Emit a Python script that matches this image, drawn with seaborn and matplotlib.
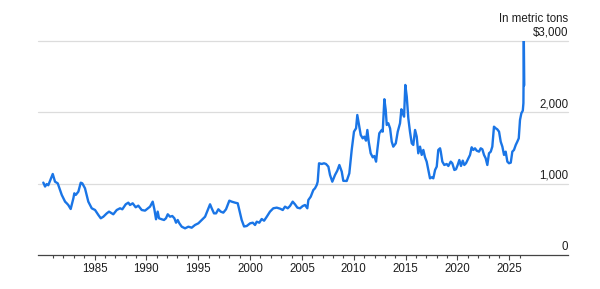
"""
Recreates the price line chart (metric tons, 1980 - 2026)
"""
import matplotlib
matplotlib.use("Agg")
import matplotlib.pyplot as plt
import pandas as pd
import seaborn as sns

# Values (decimal year, price)
years = [
    1980.06, 1980.23, 1980.39, 1980.54, 1980.97, 1981.19, 1981.45, 1981.84,
    1982.16, 1982.32, 1982.47, 1982.70, 1982.96, 1983.05, 1983.19, 1983.44,
    1983.67, 1983.82, 1984.08, 1984.40, 1984.73, 1985.05, 1985.37, 1985.60,
    1985.85, 1986.18, 1986.40, 1986.81, 1987.14, 1987.46, 1987.68, 1988.01,
    1988.26, 1988.42, 1988.68, 1988.97, 1989.22, 1989.55, 1989.87, 1990.03,
    1990.35, 1990.61, 1990.77, 1990.93, 1991.09, 1991.22, 1991.48, 1991.70,
    1991.89, 1992.06, 1992.28, 1992.50, 1992.70, 1992.86, 1993.02, 1993.18,
    1993.41, 1993.73, 1994.05, 1994.37, 1994.69, 1995.01, 1995.34, 1995.66,
    1995.92, 1996.14, 1996.30, 1996.52, 1996.72, 1996.94, 1997.17, 1997.42,
    1997.68, 1998.00, 1998.23, 1998.55, 1998.81, 1998.96, 1999.19, 1999.42,
    1999.68, 2000.00, 2000.26, 2000.48, 2000.64, 2000.89, 2001.12, 2001.35,
    2001.61, 2001.92, 2002.24, 2002.57, 2002.89, 2003.15, 2003.37, 2003.63,
    2003.85, 2004.11, 2004.33, 2004.56, 2004.82, 2005.08, 2005.30, 2005.52,
    2005.62, 2005.85, 2006.10, 2006.26, 2006.43, 2006.52, 2006.65, 2006.91,
    2007.13, 2007.32, 2007.55, 2007.71, 2007.93, 2008.19, 2008.41, 2008.61,
    2008.84, 2008.99, 2009.32, 2009.57, 2009.80, 2010.02, 2010.22, 2010.34,
    2010.51, 2010.67, 2010.86, 2011.02, 2011.18, 2011.31, 2011.44, 2011.63,
    2011.83, 2011.98, 2012.15, 2012.27, 2012.46, 2012.70, 2012.79, 2012.95,
    2013.08, 2013.18, 2013.33, 2013.50, 2013.66, 2013.81, 2014.05, 2014.24,
    2014.46, 2014.59, 2014.72, 2014.85, 2014.97, 2015.11, 2015.26, 2015.42,
    2015.59, 2015.74, 2015.91, 2016.07, 2016.22, 2016.39, 2016.55, 2016.71,
    2016.87, 2017.03, 2017.19, 2017.35, 2017.52, 2017.67, 2017.84, 2018.00,
    2018.15, 2018.32, 2018.39, 2018.54, 2018.73, 2018.96, 2019.12, 2019.35,
    2019.50, 2019.70, 2019.86, 2020.02, 2020.18, 2020.34, 2020.51, 2020.66,
    2020.82, 2021.05, 2021.21, 2021.37, 2021.53, 2021.69, 2021.86, 2022.08,
    2022.24, 2022.40, 2022.56, 2022.72, 2022.88, 2023.04, 2023.21, 2023.36,
    2023.52, 2023.69, 2023.84, 2024.01, 2024.17, 2024.33, 2024.49, 2024.65,
    2024.81, 2024.97, 2025.14, 2025.29, 2025.45, 2025.62, 2025.77, 2025.91,
    2026.03, 2026.16, 2026.30, 2026.36, 2026.40, 2026.44,
]
prices = [
    1015, 960, 995, 978, 1136, 1028, 1005, 842,
    748, 725, 701, 645, 795, 865, 842, 888,
    1014, 1005, 935, 748, 655, 631, 561, 515,
    537, 584, 608, 571, 631, 655, 641, 711,
    734, 701, 725, 669, 692, 631, 622, 641,
    678, 748, 641, 501, 608, 515, 501, 491,
    515, 571, 537, 547, 515, 453, 491, 444,
    397, 374, 397, 383, 421, 444, 491, 537,
    631, 711, 655, 584, 584, 641, 608, 594,
    641, 762, 748, 734, 725, 631, 491, 400,
    407, 444, 453, 421, 467, 453, 505, 481,
    537, 608, 655, 664, 650, 631, 678, 655,
    687, 748, 711, 664, 655, 687, 701, 655,
    771, 818, 911, 935, 982, 1028, 1286, 1276,
    1286, 1276, 1239, 1122, 1028, 1122, 1182, 1262,
    1169, 1040, 1038, 1145, 1473, 1729, 1776, 1963,
    1823, 1683, 1636, 1659, 1603, 1753, 1589, 1426,
    1370, 1388, 1309, 1473, 1706, 1753, 1729, 2184,
    2034, 1823, 1847, 1776, 1589, 1519, 1566, 1729,
    1847, 2043, 1987, 1940, 2384, 2220, 1917, 1729,
    1566, 1543, 1753, 1659, 1426, 1519, 1403, 1473,
    1370, 1309, 1192, 1075, 1090, 1075, 1192, 1239,
    1473, 1496, 1449, 1309, 1262, 1276, 1248, 1309,
    1286, 1192, 1202, 1262, 1332, 1248, 1323, 1262,
    1286, 1356, 1403, 1510, 1473, 1496, 1462, 1449,
    1496, 1482, 1403, 1356, 1262, 1426, 1449, 1519,
    1799, 1776, 1762, 1729, 1589, 1519, 1403, 1449,
    1309, 1286, 1295, 1449, 1473, 1543, 1589, 1636,
    1893, 1987, 2024, 2130, 3000, 2380,
]

x_tick_years = [1985, 1990, 1995, 2000, 2005, 2010, 2015, 2020, 2025]
x_minor_years = list(range(1981, 2027))
y_tick_values = [0, 1000, 2000, 3000]
y_tick_labels = ["0", "1,000", "2,000", "$3,000"]
unit_label = "In metric tons"

LINE_COLOR = "#1a75e6"
TEXT_COLOR = "#1e1e1e"
AXIS_COLOR = "#444444"


def build_frame():
    """
    Put the read-off values into a DataFrame for seaborn.
    """
    return pd.DataFrame({"year": years, "price": prices})


def draw_chart(df):
    """
    Draw the line chart and save it as out.png.
    """
    sns.set_style("white")
    plt.rcParams["font.family"] = ["Liberation Sans", "DejaVu Sans"]

    fig = plt.figure(figsize=(6.0, 2.89), dpi=100)
    ax = fig.add_axes([0.0625, 0.1176, 0.8847, 0.7405])

    # Light horizontal gridlines
    for v in y_tick_values[1:]:
        ax.axhline(v, color="#dcdcdc", linewidth=0.9, zorder=0, clip_on=False)

    sns.lineplot(data=df, x="year", y="price", ax=ax, color=LINE_COLOR,
                 linewidth=1.7, estimator=None, sort=False)

    ax.set_xlim(1979.5, 2030.69)
    ax.set_ylim(0, 3000)

    # Axis styling: only the bottom spine
    for side in ["left", "top", "right"]:
        ax.spines[side].set_visible(False)
    ax.spines["bottom"].set_color(AXIS_COLOR)
    ax.spines["bottom"].set_linewidth(0.9)

    ax.set_xticks(x_tick_years)
    ax.set_xticklabels([str(y) for y in x_tick_years])
    ax.set_xticks(x_minor_years, minor=True)
    ax.tick_params(axis="x", which="major", bottom=True, direction="out",
                   length=3.8, width=0.8, color=AXIS_COLOR, pad=2.0,
                   labelsize=8.3, labelcolor=TEXT_COLOR)
    ax.tick_params(axis="x", which="minor", bottom=True, direction="out",
                   length=2.3, width=0.8, color=AXIS_COLOR)

    # Y labels sit on the right, just above their gridline
    ax.set_yticks([])
    for v, lbl in zip(y_tick_values, y_tick_labels):
        ax.annotate(lbl, xy=(1.0, v), xycoords=("axes fraction", "data"),
                    xytext=(0, 1.5), textcoords="offset points",
                    ha="right", va="bottom", fontsize=8.3, color=TEXT_COLOR)
    ax.annotate(unit_label, xy=(1.0, 3000), xycoords=("axes fraction", "data"),
                xytext=(0, 11.8), textcoords="offset points",
                ha="right", va="bottom", fontsize=8.3, color=TEXT_COLOR)

    ax.set_xlabel("")
    ax.set_ylabel("")

    fig.savefig("out.png", dpi=100)
    plt.close(fig)


def main():
    df = build_frame()
    draw_chart(df)


if __name__ == "__main__":
    main()
